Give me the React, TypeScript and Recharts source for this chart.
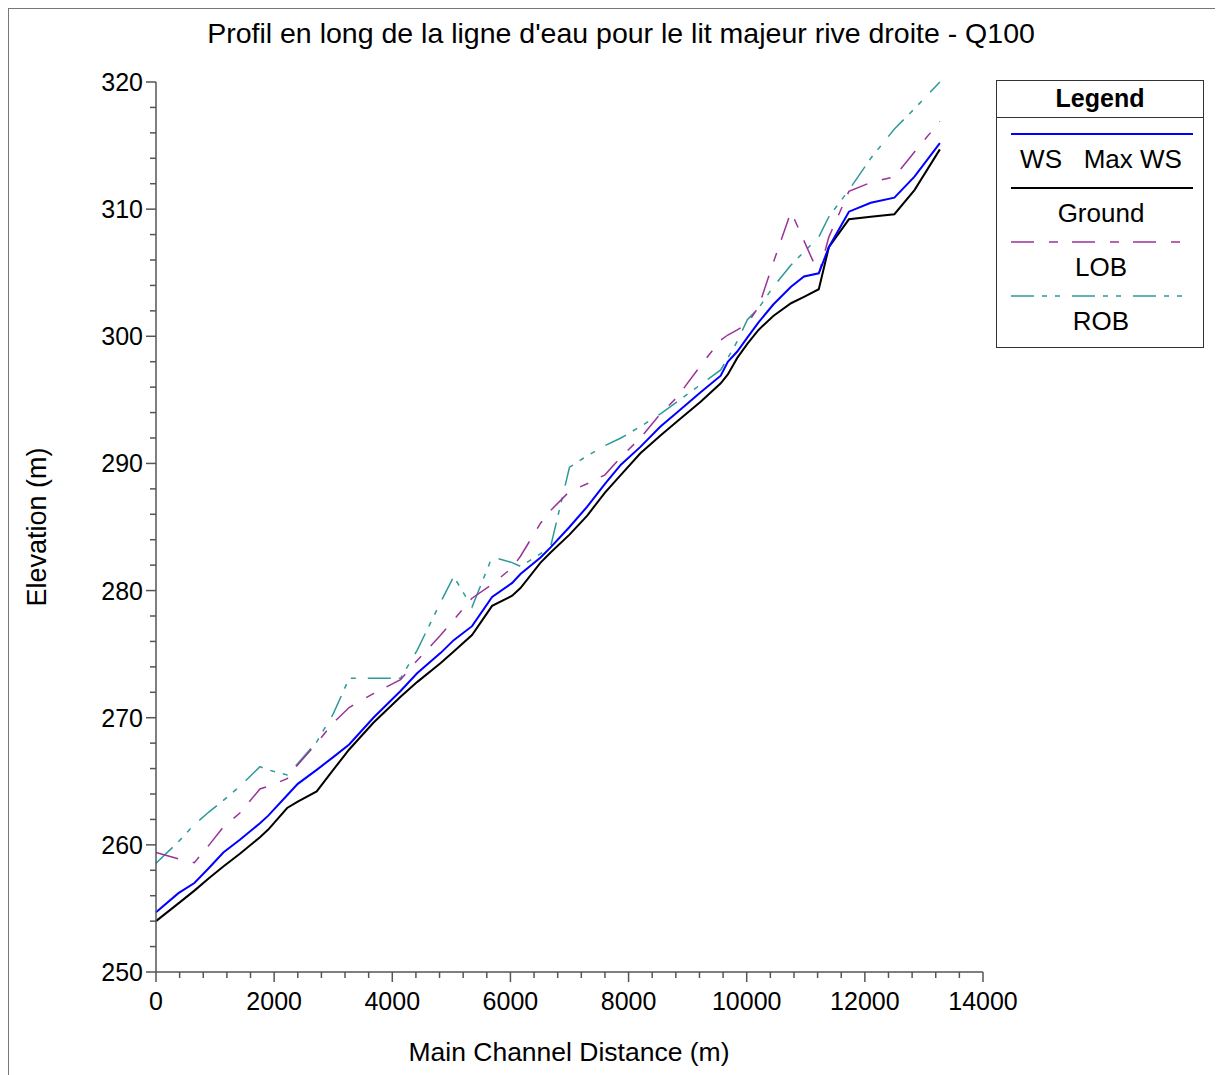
import { CartesianGrid, Line, LineChart, XAxis, YAxis } from "recharts";

const FONT = "'Liberation Sans', Arial, sans-serif";
const AXIS = "#555";
const BLUE = "#0000ff";
const BLACK = "#000000";
const PURPLE = "#993399";
const TEAL = "#2e9999";

// main channel stations (m)
const STATIONS = [
  0, 380, 650, 900, 1140, 1420, 1760, 1900, 2220, 2400, 2720, 3000, 3270, 3680, 4140, 4420, 4820, 5040,
  5350, 5690, 6030, 6170, 6510, 6680, 7000, 7300, 7600, 7870, 8200, 8540, 8820, 9220, 9560, 9680, 9840,
  10010, 10200, 10450, 10750, 10970, 11220, 11390, 11730, 12100, 12500, 12840, 13270,
];

const WS_MAX = [
  254.7, 256.2, 257.0, 258.2, 259.4, 260.4, 261.7, 262.3, 263.9, 264.8, 265.9, 266.9, 267.9, 270.0, 272.1,
  273.5, 275.1, 276.1, 277.2, 279.5, 280.6, 281.3, 282.6, 283.4, 285.0, 286.6, 288.4, 289.9, 291.3, 292.9,
  294.0, 295.6, 296.9, 298.0, 298.8, 299.9, 301.1, 302.5, 303.9, 304.7, 304.95, 307.0, 309.8, 310.5, 310.9,
  312.55, 315.2,
];

const GROUND = [
  254.0, 255.4, 256.4, 257.4, 258.3, 259.3, 260.6, 261.2, 262.9, 263.4, 264.2, 265.9, 267.5, 269.6, 271.65,
  272.8, 274.3, 275.2, 276.5, 278.8, 279.6, 280.2, 282.2, 283.0, 284.4, 285.9, 287.7, 289.1, 290.8, 292.2,
  293.3, 294.85, 296.3, 297.0, 298.3, 299.4, 300.5, 301.6, 302.6, 303.1, 303.7, 307.0, 309.2, 309.4, 309.6,
  311.5, 314.7,
];

const LOB = [
  259.4, 258.9, 258.6, 260.0, 261.4, 262.5, 264.4, 264.6, 265.2, 266.3, 268.0, 269.6, 270.8, 271.9, 273.0,
  274.5, 276.5, 277.7, 279.4, 280.5, 281.8, 282.7, 285.3, 286.3, 287.8, 288.4, 289.1, 290.5, 292.0, 293.9,
  295.2, 297.7, 299.7, 300.1, 300.5, 301.0, 302.3, 305.8, 309.8, 307.5, 304.9, 307.8, 311.4, 312.1, 312.55,
  314.5, 316.9,
];

const ROB = [
  258.55, 260.25, 261.6, 262.6, 263.5, 264.6, 266.15, 265.9, 265.5, 266.4, 268.1, 270.3, 273.1, 273.1, 273.1,
  275.3, 279.1, 281.1, 278.7, 282.65, 282.2, 281.9, 282.9, 283.45, 289.7, 290.6, 291.4, 292.0, 292.9, 293.9,
  294.85, 296.2, 297.35, 298.3, 299.6, 301.3, 302.2, 303.9, 305.6, 306.65, 307.8, 309.4, 311.5, 314.0, 316.3,
  317.9, 320.0,
];

const X_TICKS: number[] = [];
for (let v = 0; v <= 14000; v += 400) X_TICKS.push(v);
const Y_TICKS: number[] = [];
for (let v = 250; v <= 320; v += 2) Y_TICKS.push(v);

const data = STATIONS.map((s, i) => ({
  station: s,
  ws: WS_MAX[i],
  ground: GROUND[i],
  lob: LOB[i],
  rob: ROB[i],
}));

const LEGEND_ITEMS = [
  { label: "WS\u00a0\u00a0\u00a0Max WS", color: BLUE, dash: "", width: 2 },
  { label: "Ground", color: BLACK, dash: "", width: 2 },
  { label: "LOB", color: PURPLE, dash: "23 15 9 14", width: 1.5 },
  { label: "ROB", color: TEAL, dash: "23 8 5 8 5 12", width: 1.5 },
];

function XTick(props: any) {
  const { x, y, payload } = props;
  const major = payload.value % 2000 === 0;
  return (
    <g>
      <line x1={x} y1={y} x2={x} y2={y + (major ? 10 : 6)} stroke={AXIS} strokeWidth={1.5} />
      {major && (
        <text x={x} y={y + 38} textAnchor="middle" fontSize={25} fontFamily={FONT} fill="#000">
          {payload.value}
        </text>
      )}
    </g>
  );
}

function YTick(props: any) {
  const { x, y, payload } = props;
  const major = payload.value % 10 === 0;
  return (
    <g>
      <line x1={x} y1={y} x2={x - (major ? 10 : 6)} y2={y} stroke={AXIS} strokeWidth={1.5} />
      {major && (
        <text x={x - 13} y={y + 9} textAnchor="end" fontSize={25} fontFamily={FONT} fill="#000">
          {payload.value}
        </text>
      )}
    </g>
  );
}

function LegendBox() {
  return (
    <div
      style={{
        position: "absolute",
        left: 987,
        top: 71,
        width: 206,
        height: 266,
        border: "1px solid #333",
        fontFamily: FONT,
        background: "#fff",
      }}
    >
      <div
        style={{
          height: 36,
          borderBottom: "1px solid #333",
          textAlign: "center",
          fontWeight: "bold",
          fontSize: 25,
          lineHeight: "34px",
        }}
      >
        Legend
      </div>
      <svg width={206} height={228} style={{ display: "block" }}>
        {LEGEND_ITEMS.map((item, i) => {
          const top = 16 + i * 54;
          return (
            <g key={item.label}>
              <line
                x1={14}
                x2={196}
                y1={top}
                y2={top}
                stroke={item.color}
                strokeWidth={item.width}
                strokeDasharray={item.dash || undefined}
              />
              <text x={104} y={top + 34} textAnchor="middle" fontSize={26} fontFamily={FONT} fill="#000">
                {item.label}
              </text>
            </g>
          );
        })}
      </svg>
    </div>
  );
}

export default function App() {
  return (
    <div
      style={{
        position: "relative",
        width: 1206,
        height: 1067,
        borderLeft: "1px solid #777",
        borderTop: "1px solid #777",
        borderRight: "2px solid #777",
        background: "#fff",
        fontFamily: FONT,
      }}
    >
      <div
        style={{
          position: "absolute",
          left: 0,
          width: 1224,
          top: 8,
          textAlign: "center",
          fontSize: 28.5,
          color: "#000",
        }}
      >
        Profil en long de la ligne d'eau pour le lit majeur rive droite - Q100
      </div>
      <LineChart
        width={1206}
        height={1067}
        data={data}
        margin={{ top: 73, right: 232, bottom: 64, left: 87 }}
      >
        <CartesianGrid stroke="none" />
        <XAxis
          dataKey="station"
          type="number"
          domain={[0, 14000]}
          ticks={X_TICKS}
          interval={0}
          tickSize={0}
          tickMargin={0}
          tick={<XTick />}
          tickLine={false}
          axisLine={{ stroke: AXIS, strokeWidth: 1.5 }}
          height={40}
        />
        <YAxis
          type="number"
          domain={[250, 320]}
          ticks={Y_TICKS}
          interval={0}
          tickSize={0}
          tickMargin={0}
          tick={<YTick />}
          tickLine={false}
          axisLine={{ stroke: AXIS, strokeWidth: 1.5 }}
          width={60}
        />
        <Line type="linear" dataKey="rob" stroke={TEAL} strokeWidth={1.5} strokeDasharray="23 8 5 8 5 12" dot={false} isAnimationActive={false} />
        <Line type="linear" dataKey="lob" stroke={PURPLE} strokeWidth={1.5} strokeDasharray="23 15 9 14" dot={false} isAnimationActive={false} />
        <Line type="linear" dataKey="ground" stroke={BLACK} strokeWidth={2} dot={false} isAnimationActive={false} />
        <Line type="linear" dataKey="ws" stroke={BLUE} strokeWidth={2} dot={false} isAnimationActive={false} />
      </LineChart>
      <LegendBox />
      <div
        style={{
          position: "absolute",
          left: 28,
          top: 518,
          width: 0,
          height: 0,
        }}
      >
        <div
          style={{
            position: "absolute",
            transform: "translate(-50%, -50%) rotate(-90deg)",
            whiteSpace: "nowrap",
            fontSize: 27,
            color: "#000",
          }}
        >
          Elevation (m)
        </div>
      </div>
      <div
        style={{
          position: "absolute",
          left: 147,
          width: 826,
          top: 1028,
          textAlign: "center",
          fontSize: 26.5,
          color: "#000",
        }}
      >
        Main Channel Distance (m)
      </div>
    </div>
  );
}
